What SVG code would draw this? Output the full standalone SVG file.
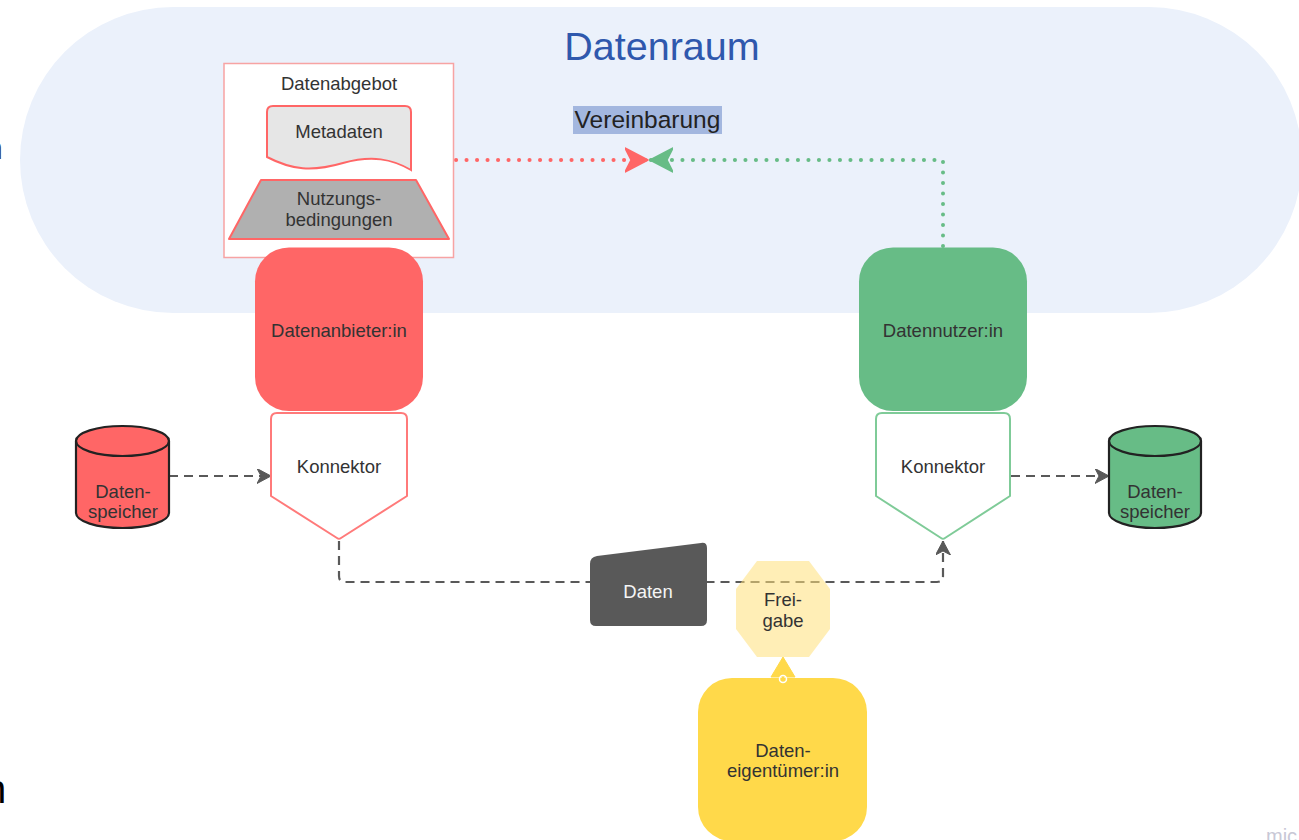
<svg xmlns="http://www.w3.org/2000/svg" width="1299" height="840" viewBox="0 0 1299 840">
<style>
text{font-family:"Liberation Sans",Arial,sans-serif;fill:#333333;font-size:18.5px;text-anchor:middle}
.dash{fill:none;stroke:#595959;stroke-width:2.2;stroke-dasharray:9 6}
.dotR{fill:none;stroke:#ff6666;stroke-width:4;stroke-linecap:round;stroke-dasharray:0.1 10.4}
.dotG{fill:none;stroke:#67bc86;stroke-width:4;stroke-linecap:round;stroke-dasharray:0.1 10.4}
.cyl{stroke:#222222;stroke-width:2.2}
</style>
<defs>
<marker id="arrDark" markerUnits="userSpaceOnUse" markerWidth="16" markerHeight="16" refX="14" refY="7.5" orient="auto" viewBox="0 0 16 16">
<path d="M0,0 L14,7.5 L0,15 L4,7.5 Z" fill="#595959" stroke="#595959" stroke-width="1" stroke-linejoin="round"/>
</marker>
<marker id="arrRed" markerUnits="userSpaceOnUse" markerWidth="26" markerHeight="28" refX="23" refY="13" orient="auto" viewBox="0 0 26 28">
<path d="M0,1 L23,13 L0,25 L6,13 Z" fill="#ff6666" stroke="#ff6666" stroke-width="1.5" stroke-linejoin="round"/>
</marker>
<marker id="arrGreen" markerUnits="userSpaceOnUse" markerWidth="26" markerHeight="28" refX="23" refY="13" orient="auto" viewBox="0 0 26 28">
<path d="M0,1 L23,13 L0,25 L6,13 Z" fill="#67bc86" stroke="#67bc86" stroke-width="1.5" stroke-linejoin="round"/>
</marker>
</defs>
<rect width="1299" height="840" fill="#ffffff"/>
<text x="-15" y="159" style="font-size:32px;fill:#333333;text-anchor:start">n</text>
<text x="-16" y="803" style="font-size:40px;fill:#000000;text-anchor:start">n</text>
<text x="1266" y="843" style="font-size:20px;fill:#c8c8d6;text-anchor:start">mic</text>

<g id="datenraum">
<rect x="20" y="7" width="1282" height="306" rx="153" ry="153" fill="#ebf1fb"/>
<text x="662" y="60" style="font-size:39.5px;fill:#2f58ad">Datenraum</text>
</g>

<g id="vereinbarung">
<rect x="573" y="106" width="149" height="28" fill="#a3b7df"/>
<text x="647.5" y="128" style="font-size:24.5px;fill:#222222">Vereinbarung</text>
</g>

<g id="connectors">
<path class="dotR" d="M456,160 L648,160" marker-end="url(#arrRed)"/>
<path class="dotG" d="M943,246 L943,160 L650,160" marker-end="url(#arrGreen)"/>
<path class="dash" d="M169,476 L271,476" marker-end="url(#arrDark)"/>
<path class="dash" d="M1011,476 L1109,476" marker-end="url(#arrDark)"/>
<path class="dash" d="M339,541 L339,576 Q339,582 345,582 L937,582 Q943,582 943,576 L943,541" marker-end="url(#arrDark)"/>
<path d="M783,680 L783,662" fill="none" stroke="#ffd94a" stroke-width="2"/>
<path d="M783,657 L795,677 L771,677 Z" fill="#ffd94a" stroke="#ffd94a" stroke-width="1" stroke-linejoin="round"/>
</g>

<g id="datenabgebot">
<rect x="224" y="63.5" width="229.5" height="194" fill="#ffffff" stroke="#f7a3a3" stroke-width="1.5"/>
<text x="339" y="90">Datenabgebot</text>
</g>

<g id="metadaten">
<path d="M267,112 Q267,106 273,106 L405,106 Q411,106 411,112 L411,170 C392,159 372,155 343,163 C312,172 292,170 267,157 Z" fill="#e6e6e6" stroke="#ff6666" stroke-width="2"/>
<text x="339" y="138">Metadaten</text>
</g>

<g id="nutzungsbedingungen">
<path d="M261,180 L416,180 L449,239 L229,239 Z" fill="#b0b0b0" stroke="#ff6666" stroke-width="2" stroke-linejoin="round"/>
<text x="339" y="205">Nutzungs-</text>
<text x="339" y="226">bedingungen</text>
</g>

<g id="datenanbieter">
<rect x="255" y="247.5" width="168" height="163.5" rx="34" ry="34" fill="#ff6666"/>
<text x="339" y="337">Datenanbieter:in</text>
</g>

<g id="konnektor-links">
<path d="M271,419 Q271,413 277,413 L401,413 Q407,413 407,419 L407,496 L341,538 Q339,539.5 337,538 L271,496 Z" fill="#ffffff" stroke="#ff7a7a" stroke-width="2" stroke-linejoin="round"/>
<text x="339" y="473">Konnektor</text>
</g>

<g id="datenspeicher-links">
<path class="cyl" d="M76,441 A46.5,15 0 0 1 169,441 L169,513 A46.5,15 0 0 1 76,513 Z" fill="#ff6666"/>
<path class="cyl" d="M76,441 A46.5,15 0 0 0 169,441" fill="none"/>
<text x="123" y="498">Daten-</text>
<text x="123" y="518">speicher</text>
</g>

<g id="datennutzer">
<rect x="859" y="247.5" width="168" height="163.5" rx="34" ry="34" fill="#67bc86"/>
<text x="943" y="337">Datennutzer:in</text>
</g>

<g id="konnektor-rechts">
<path d="M876,419 Q876,413 882,413 L1004,413 Q1010,413 1010,419 L1010,496 L945,538 Q943,539.5 941,538 L876,496 Z" fill="#ffffff" stroke="#7fcb98" stroke-width="2" stroke-linejoin="round"/>
<text x="943" y="473">Konnektor</text>
</g>

<g id="datenspeicher-rechts">
<path class="cyl" d="M1109,441 A46,15 0 0 1 1201,441 L1201,513 A46,15 0 0 1 1109,513 Z" fill="#67bc86"/>
<path class="cyl" d="M1109,441 A46,15 0 0 0 1201,441" fill="none"/>
<text x="1155" y="498">Daten-</text>
<text x="1155" y="518">speicher</text>
</g>

<g id="daten">
<path d="M597,556 L701,543 Q707,542 707,548 L707,620 Q707,626 701,626 L596,626 Q590,626 590,620 L590,564 Q590,557 597,556 Z" fill="#595959"/>
<text x="648" y="598" style="fill:#f5f5f5">Daten</text>
</g>

<g id="freigabe">
<path d="M757,561 L809,561 L830,589 L830,629 L809,657 L757,657 L736,629 L736,589 Z" fill="#ffe07a" fill-opacity="0.55"/>
<text x="783" y="606">Frei-</text>
<text x="783" y="627">gabe</text>
</g>

<g id="dateneigentuemer">
<rect x="698" y="678" width="169" height="163" rx="34" ry="34" fill="#ffd94a"/>
<circle cx="783" cy="679" r="3.5" fill="none" stroke="#ffffff" stroke-width="1.5"/>
<text x="783" y="757">Daten-</text>
<text x="783" y="777">eigentümer:in</text>
</g>
</svg>
